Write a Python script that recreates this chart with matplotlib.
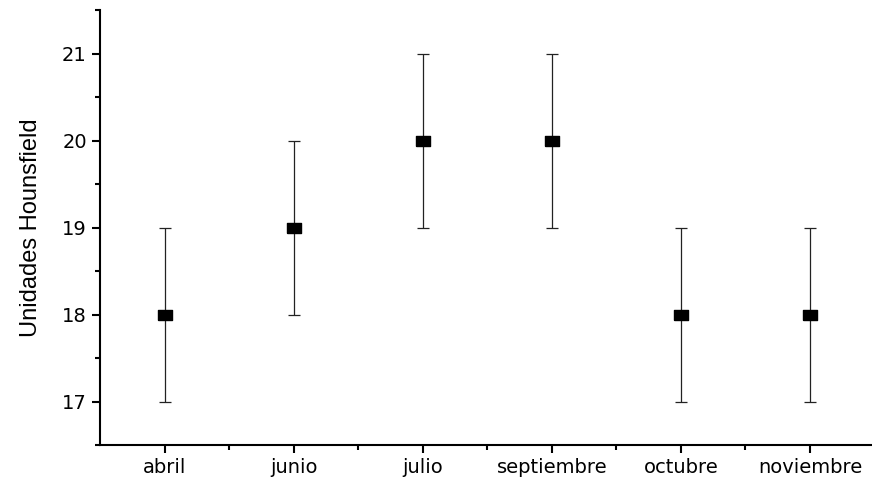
import matplotlib.pyplot as plt
import numpy as np

meses = ['abril', 'junio', 'julio', 'septiembre', 'octubre', 'noviembre']
valores = [18, 19, 20, 20, 18, 18]
errores = [1, 1, 1, 1, 1, 1]

plt.rcParams['font.family'] = ['DejaVu Sans']

fig = plt.figure(figsize=(8.72, 4.8), dpi=100)
ax = fig.add_axes([100 / 872, 35 / 480, 774.5 / 872, 435 / 480])

x = np.arange(len(meses))
ax.errorbar(x, valores, yerr=errores, fmt='none', ecolor='#222222',
            elinewidth=0.9, capsize=4.5, capthick=0.9)
# square marker, a bit wider than tall like the original
caja = [(-1.4, -1), (1.4, -1), (1.4, 1), (-1.4, 1), (-1.4, -1)]
ax.plot(x, valores, marker=caja, color='black', markersize=10, linestyle='none')

ax.set_xlim(-0.5, 5.5)
ax.set_ylim(16.5, 21.5)
ax.set_xticks(x)
ax.set_xticklabels(meses)
ax.set_xticks(x[:-1] + 0.5, minor=True)
ax.set_yticks([17, 18, 19, 20, 21])
ax.set_yticks(np.arange(16.5, 21.6, 0.5), minor=True)
ax.tick_params(axis='both', which='major', labelsize=14, width=1.5, length=6, direction='out')
ax.tick_params(axis='both', which='minor', width=1.5, length=3.5, direction='out')

ax.set_ylabel('Unidades Hounsfield', fontsize=17, family=['Liberation Sans', 'DejaVu Sans'])
ax.yaxis.set_label_coords(-0.075, 0.5)

for s in ['top', 'right']:
    ax.spines[s].set_visible(False)
for s in ['left', 'bottom']:
    ax.spines[s].set_linewidth(1.5)

fig.savefig('out.png', dpi=100)
